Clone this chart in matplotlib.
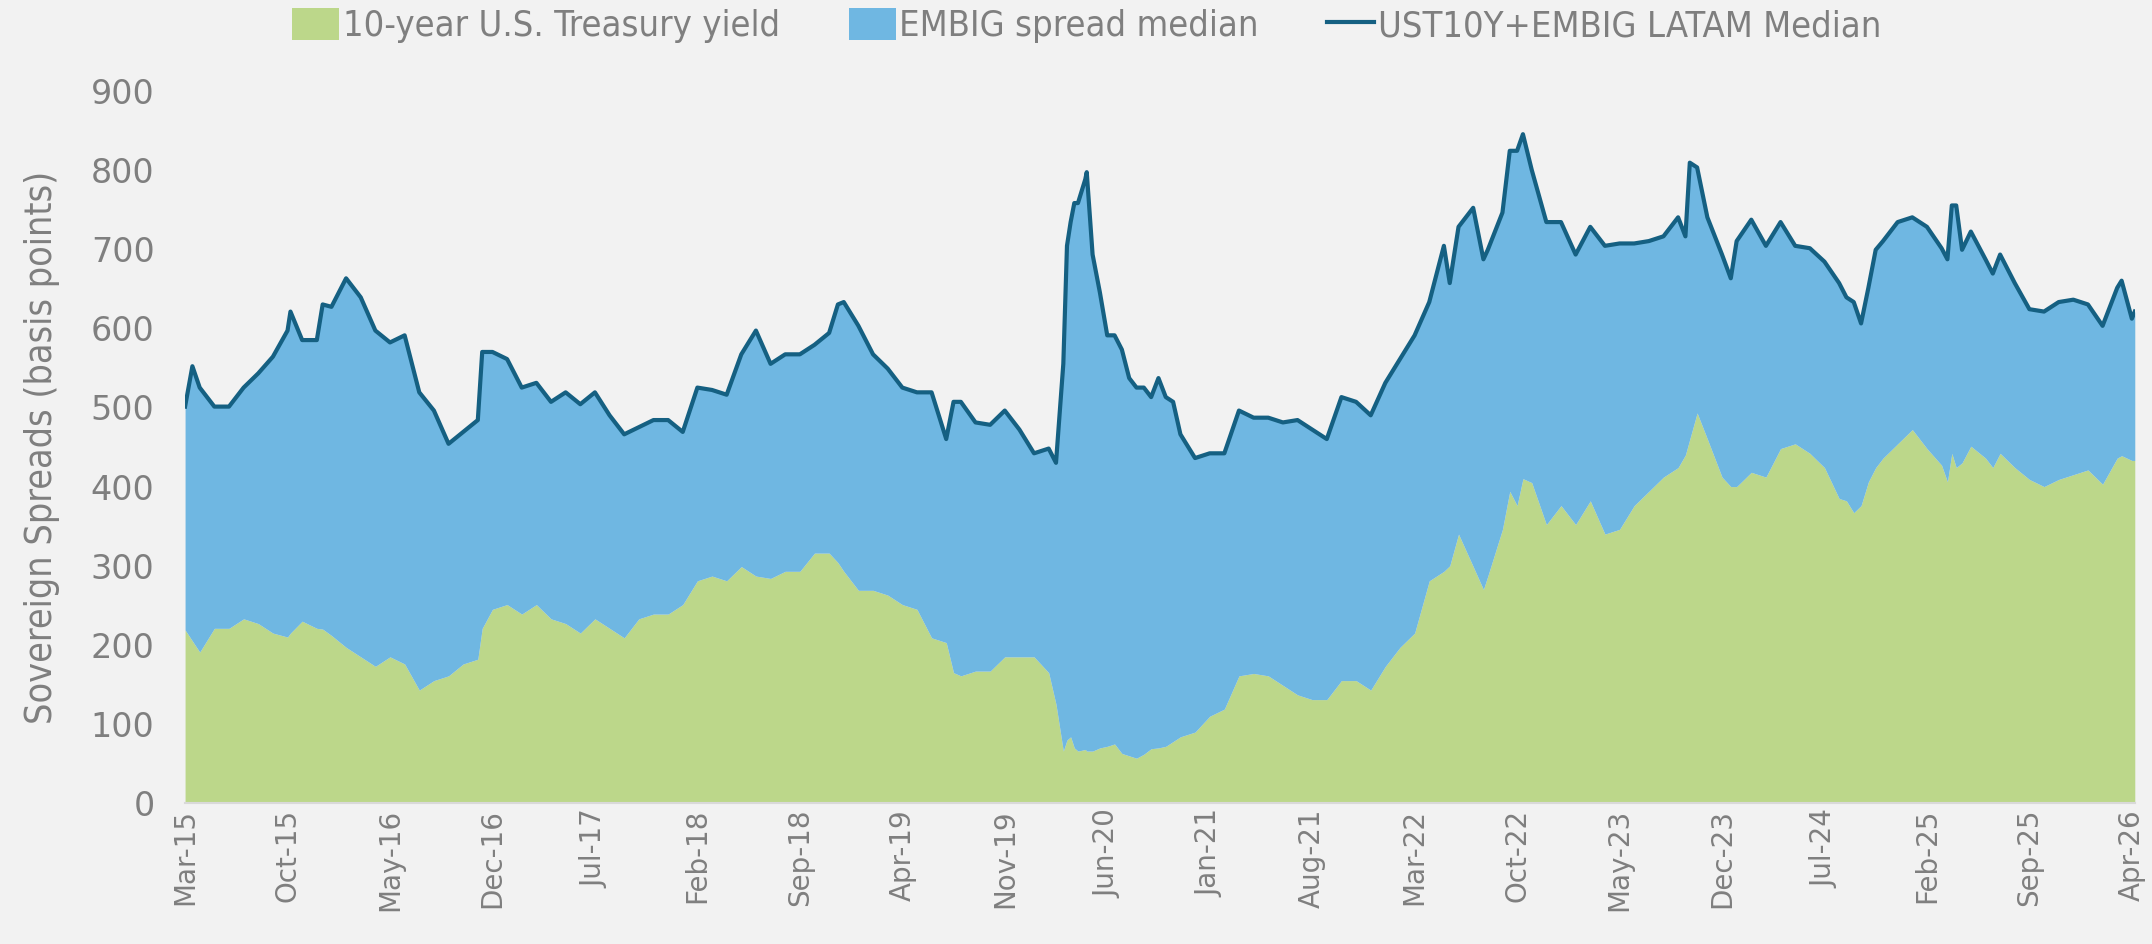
"""
Diferenciales soberanos LATAM: rendimiento del bono del Tesoro a 10 anos
mas la mediana del EMBIG, en puntos basicos.
"""

import matplotlib

matplotlib.use("Agg")
import matplotlib.pyplot as plt
from matplotlib.font_manager import FontProperties
from matplotlib.lines import Line2D
from matplotlib.patches import Patch

# Meses transcurridos desde marzo de 2015 (algunos puntos intermedios en tramos muy movidos)
mes = [
    0, 0.5, 1, 2, 3, 4, 5, 6, 7, 7.2, 8, 9, 9.4, 10, 11, 12, 13, 14, 15, 16,
    17, 18, 19, 20, 20.3, 21, 22, 23, 24, 25, 26, 27, 28, 29, 30, 31, 32, 33,
    34, 35, 36, 37, 38, 39, 40, 41, 42, 43, 44, 44.6, 45, 46, 47, 48, 49, 50,
    51, 52, 52.5, 53, 54, 55, 56, 57, 58, 59, 59.5, 60, 60.25, 60.5, 60.75, 61,
    61.5, 61.6, 62, 62.5, 63, 63.5, 64, 64.5, 65, 65.5, 66, 66.5, 67, 67.5, 68,
    69, 70, 71, 72, 73, 74, 75, 76, 77, 78, 79, 80, 81, 82, 83, 84, 85, 86,
    86.4, 87, 88, 88.7, 89, 90, 90.5, 91, 91.4, 92, 93, 94, 95, 96, 97, 98, 99,
    100, 101, 102, 102.5, 102.8, 103.3, 104, 105, 105.6, 106, 107, 108, 109,
    110, 111, 112, 113, 113.5, 114, 114.5, 115, 115.5, 116, 117, 118, 119, 120,
    120.4, 120.7, 121, 121.4, 122, 123, 123.5, 124, 125, 126, 127, 128, 129,
    130, 131, 132, 132.3, 133, 133.2,
]

# UST10Y + EMBIG LATAM mediana (linea superior)
total = [
    501, 552, 525, 501, 501, 525, 543, 564, 597, 621, 585, 585, 630, 627, 663, 639, 597, 582, 591, 519,
    496, 454, 469, 484, 570, 570, 561, 525, 531, 507, 519, 504, 519, 490, 466, 475, 484, 484,
    469, 525, 522, 516, 567, 597, 555, 567, 567, 579, 594, 630, 633, 603, 567, 549, 525, 519,
    519, 460, 507, 507, 481, 478, 496, 472, 442, 448, 430, 555, 704, 734, 758, 758,
    788, 797, 693, 645, 591, 591, 573, 537, 525, 525, 513, 537, 513, 507, 466,
    436, 442, 442, 496, 487, 487, 481, 484, 472, 460, 513, 507, 490, 531, 561, 591, 633, 704,
    657, 728, 752, 687, 699, 746, 824, 824, 845, 800, 734, 734, 693, 728, 704, 707, 707,
    710, 716, 740, 716, 809, 803, 740, 693, 663, 710, 737, 704, 734,
    704, 701, 684, 657, 639, 633, 606, 651, 699, 710, 734, 740, 728, 701,
    687, 755, 755, 699, 722, 687, 669, 693, 657, 624, 621, 633, 636,
    630, 603, 651, 660, 612, 621,
]

# Rendimiento del Tesoro de EE. UU. a 10 anos (area verde)
ust10y = [
    219, 205, 191, 221, 221, 233, 227, 215, 210, 215, 230, 221, 220, 212, 197, 185, 173, 185, 176, 143,
    155, 161, 176, 182, 221, 245, 251, 239, 251, 233, 227, 215, 233, 221, 209, 233, 239, 239,
    251, 281, 287, 281, 299, 287, 284, 293, 293, 316, 316, 304, 293, 269, 269, 263, 251, 245,
    209, 203, 165, 161, 167, 167, 185, 185, 185, 165, 125, 66, 80, 84, 70, 66,
    68, 66, 66, 70, 72, 75, 63, 60, 57, 62, 69, 70, 72, 78, 84,
    90, 110, 119, 161, 164, 161, 149, 137, 131, 131, 155, 155, 143, 173, 197, 215, 281, 293,
    300, 340, 299, 270, 287, 346, 394, 376, 410, 405, 352, 376, 352, 382, 340, 346, 376,
    394, 412, 424, 440, 460, 493, 460, 412, 400, 400, 418, 412, 448,
    454, 442, 424, 385, 382, 367, 376, 406, 424, 436, 454, 472, 448, 427,
    406, 442, 424, 430, 451, 436, 424, 442, 424, 409, 400, 409, 415,
    421, 403, 436, 439, 433, 433,
]

etiquetas_x = [
    "Mar-15", "Oct-15", "May-16", "Dec-16", "Jul-17", "Feb-18", "Sep-18", "Apr-19",
    "Nov-19", "Jun-20", "Jan-21", "Aug-21", "Mar-22", "Oct-22", "May-23", "Dec-23",
    "Jul-24", "Feb-25", "Sep-25", "Apr-26",
]

FONDO = "#f2f2f2"
VERDE = "#bcd78a"
AZUL = "#6fb7e2"
LINEA = "#156082"
TEXTO = "#7f7f7f"


def estrecha(tam):
    return FontProperties(family="DejaVu Sans", stretch="condensed", size=tam)


fig = plt.figure(figsize=(21.52, 9.44), dpi=100, facecolor=FONDO)
ax = fig.add_axes([0.086, 0.149, 0.906, 0.755], facecolor=FONDO)

ax.fill_between(mes, 0, ust10y, color=VERDE, linewidth=0)
ax.fill_between(mes, ust10y, total, color=AZUL, linewidth=0)
ax.plot(mes, total, color=LINEA, linewidth=3)

ax.set_xlim(0, mes[-1])
ax.set_ylim(0, 900)
ax.set_yticks(range(0, 901, 100))
ax.set_xticks(range(0, 134, 7))
ax.set_xticklabels(etiquetas_x, rotation=90)
ax.tick_params(axis="both", length=0, colors=TEXTO)
ax.tick_params(axis="y", pad=22, labelsize=24)
ax.tick_params(axis="x", pad=4, labelsize=20)
for lado in ["top", "right", "left"]:
    ax.spines[lado].set_visible(False)
ax.spines["bottom"].set_color("#d9d9d9")
ax.spines["bottom"].set_linewidth(1.5)

ax.set_ylabel("Sovereign Spreads (basis points)", color=TEXTO,
              fontproperties=estrecha(27), labelpad=22)

manejadores = [
    Patch(facecolor=VERDE, edgecolor="none"),
    Patch(facecolor=AZUL, edgecolor="none"),
    Line2D([0], [0], color=LINEA, linewidth=3),
]
nombres = ["10-year U.S. Treasury yield", "EMBIG spread median", "UST10Y+EMBIG LATAM Median"]
fig.legend(manejadores, nombres, loc="upper center", bbox_to_anchor=(0.505, 1.026), ncol=3,
           frameon=False, prop=estrecha(26), labelcolor=TEXTO,
           handlelength=1.3, handleheight=1.0, handletextpad=0.1, columnspacing=1.9)

fig.savefig("out.png", dpi=100, facecolor=FONDO)
